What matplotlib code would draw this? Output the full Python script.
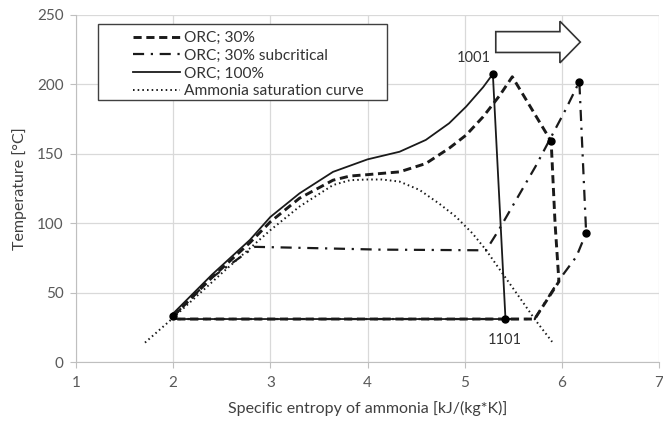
import numpy as np
import matplotlib.pyplot as plt
from matplotlib.patches import FancyArrow, Rectangle

plt.rcParams['font.family'] = ['Lato', 'DejaVu Sans']

# ORC 100% (solid)
orc100_s = [2.0, 2.4, 2.79, 3.0, 3.3, 3.645, 4.0, 4.33, 4.6, 4.84, 5.015, 5.19, 5.29, 5.42, 2.0, 2.0]
orc100_t = [35, 63, 88, 104.5, 121.5, 137, 146, 151.5, 160, 172, 184, 198, 207.5, 31, 31, 35]

# ORC 30% (dashed)
orc30_s = [2.0, 2.4, 2.79, 3.0, 3.3, 3.645, 3.82, 4.0, 4.33, 4.6, 4.84, 5.015, 5.19, 5.36, 5.49,
           5.89, 5.93, 5.97, 5.72, 2.0, 2.0]
orc30_t = [33, 61, 86, 101, 118, 131, 134, 135, 137, 143, 154, 163.5, 176.7, 192, 205.5,
           159, 100, 58, 31, 31, 33]

# ORC 30% subcritical (dash-dot)
sub_s = [2.0, 2.4, 2.84, 3.5, 4.12, 4.8, 5.22, 5.35, 5.49, 5.73, 6.04, 6.18, 6.25, 6.15, 5.97, 5.72, 2.0, 2.0]
sub_t = [33, 61, 83, 82, 81, 80.7, 80.5, 95, 112, 141, 182, 202, 93, 76, 59, 31, 31, 33]

# ammonia saturation curve (dotted)
sat_s = [1.71, 1.97, 2.5, 3.0, 3.3, 3.645, 3.82, 4.0, 4.15, 4.33, 4.535, 4.74, 4.91, 5.08, 5.22,
         5.34, 5.56, 5.73, 5.90]
sat_t = [14, 30, 64, 95, 112, 127.5, 131, 131.5, 131.5, 130, 124, 114, 104.7, 92.7, 80.7,
         68.7, 47, 30, 14.6]

# state points
pts_s = [2.0, 5.29, 5.42, 5.89, 6.18, 6.25]
pts_t = [33, 207.5, 31, 159, 202, 93]

fig = plt.figure(figsize=(6.63, 4.22), dpi=100)
ax = fig.add_axes([0.1146, 0.142, 0.8794, 0.8225])

lc = '#1a1a1a'
ax.plot(orc30_s, orc30_t, color=lc, lw=2.1, dashes=(2.8, 1.6), label='ORC; 30%')
ax.plot(sub_s, sub_t, color=lc, lw=1.6, dashes=(5, 3, 1, 3), label='ORC; 30% subcritical')
ax.plot(orc100_s, orc100_t, color=lc, lw=1.3, label='ORC; 100%')
ax.plot(sat_s, sat_t, color=lc, lw=1.4, dashes=(0.8, 1.6), label='Ammonia saturation curve')
ax.plot(pts_s, pts_t, 'o', color='black', ms=5, zorder=5)

ax.text(5.09, 219, '1001', ha='center', va='center', fontsize=10.5, color='#333333')
ax.text(5.41, 16, '1101', ha='center', va='center', fontsize=10.5, color='#333333')

ax.add_patch(FancyArrow(5.32, 230.5, 0.87, 0, width=15, head_width=30, head_length=0.21,
                        length_includes_head=True, fc='white', ec='#333333', lw=1.2, zorder=6))

ax.set_xlim(1, 7)
ax.set_ylim(0, 250)
ax.set_xticks(np.arange(1, 8))
ax.set_yticks(np.arange(0, 251, 50))
ax.grid(True, color='#d9d9d9', lw=0.9)
ax.set_axisbelow(True)
for s in ['top', 'right']:
    ax.spines[s].set_visible(False)
for s in ['left', 'bottom']:
    ax.spines[s].set_color('#bfbfbf')
ax.tick_params(colors='#bfbfbf', labelcolor='#595959', labelsize=11, length=4)
ax.tick_params(axis='x', pad=6)
ax.tick_params(axis='y', pad=5)

ax.set_xlabel('Specific entropy of ammonia [kJ/(kg*K)]', fontsize=11.5, color='#404040', labelpad=8)
ax.set_ylabel('Temperature [°C]', fontsize=11.5, color='#404040', labelpad=7)

# legend box drawn separately, entries placed inside
ax.add_patch(Rectangle((0.0377, 0.755), 0.4964, 0.219, transform=ax.transAxes, fill=True,
                       fc='white', ec='#404040', lw=1.0, zorder=7))
leg = ax.legend(loc='upper left', bbox_to_anchor=(0.0978, 0.954), fontsize=11.2, frameon=False,
                handlelength=3.0, handletextpad=0.27, labelspacing=0.24, borderpad=0,
                borderaxespad=0)
leg.set_zorder(8)
for t in leg.get_texts():
    t.set_color('#333333')

fig.savefig('out.png', dpi=100)
